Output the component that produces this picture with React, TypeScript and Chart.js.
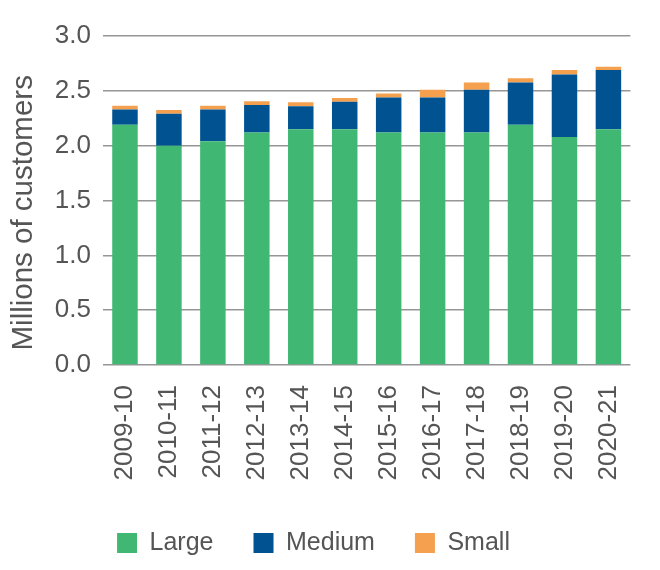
import React, { useEffect, useRef } from "react";
import { Chart, registerables } from "chart.js";

Chart.register(...registerables);

const categories = [
  "2009-10", "2010-11", "2011-12", "2012-13", "2013-14", "2014-15",
  "2015-16", "2016-17", "2017-18", "2018-19", "2019-20", "2020-21",
];
const large = [2.19, 2.0, 2.04, 2.12, 2.15, 2.15, 2.12, 2.12, 2.12, 2.19, 2.08, 2.15];
const medium = [0.14, 0.29, 0.29, 0.25, 0.21, 0.25, 0.32, 0.32, 0.39, 0.385, 0.57, 0.54];
const small = [0.035, 0.035, 0.035, 0.035, 0.035, 0.035, 0.035, 0.07, 0.065, 0.04, 0.04, 0.03];
const yTicks = [0, 0.5, 1.0, 1.5, 2.0, 2.5, 3.0];
const seriesNames = ["Large", "Medium", "Small"];
const seriesColors = ["#40B873", "#005390", "#F4A04F"];
const yTitle = "Millions of customers   ";

const FONT = "'Liberation Sans', Arial, Helvetica, sans-serif";
const TEXT = "#555555";

const legendShift = {
  id: "legendShift",
  afterLayout(chart: any) {
    if (chart.legend) {
      chart.legend.left -= 12;
      chart.legend.right -= 12;
    }
  },
};

export default function App() {
  const ref = useRef<HTMLCanvasElement | null>(null);

  useEffect(() => {
    if (!ref.current) return;
    const values = [large, medium, small];
    const chart = new Chart(ref.current, {
      type: "bar",
      data: {
        labels: categories,
        datasets: seriesNames.map((name, i) => ({
          label: name,
          data: values[i],
          backgroundColor: seriesColors[i],
          borderWidth: 0,
          categoryPercentage: 1,
          barPercentage: 0.58,
        })),
      },
      plugins: [legendShift],
      options: {
        animation: false,
        responsive: false,
        maintainAspectRatio: false,
        layout: { padding: { top: 36, right: 9, bottom: 4.5, left: 0 } },
        plugins: {
          tooltip: { enabled: false },
          legend: {
            position: "bottom",
            align: "center",
            labels: {
              boxWidth: 20,
              boxHeight: 20,
              padding: 40,
              color: TEXT,
              font: { family: FONT, size: 25 },
            },
          },
        },
        scales: {
          x: {
            stacked: true,
            grid: { display: false, drawTicks: false },
            border: { display: false },
            ticks: {
              color: TEXT,
              font: { family: FONT, size: 26 },
              minRotation: 90,
              maxRotation: 90,
              padding: 20,
              autoSkip: false,
            },
            afterFit: (scale: any) => {
              scale.height = 125.5;
            },
          },
          y: {
            stacked: true,
            min: 0,
            max: 3,
            afterBuildTicks: (scale: any) => {
              scale.ticks = yTicks.map((v) => ({ value: v }));
            },
            grid: { color: "#969696", lineWidth: 1.5, drawTicks: false },
            border: { display: false },
            ticks: {
              color: TEXT,
              font: { family: FONT, size: 26 },
              padding: 12,
              callback: (v: any) => Number(v).toFixed(1),
            },
            title: {
              display: true,
              text: yTitle,
              color: TEXT,
              font: { family: FONT, size: 29.5 },
              padding: { top: 6, bottom: 0 },
            },
            afterFit: (scale: any) => {
              scale.width = 103;
            },
          },
        },
      },
    });
    return () => chart.destroy();
  }, []);

  return (
    <div style={{ position: "absolute", left: 0, top: 0, width: 660, height: 570, background: "#fff" }}>
      <canvas ref={ref} width={660} height={570} style={{ width: 660, height: 570 }} />
    </div>
  );
}
